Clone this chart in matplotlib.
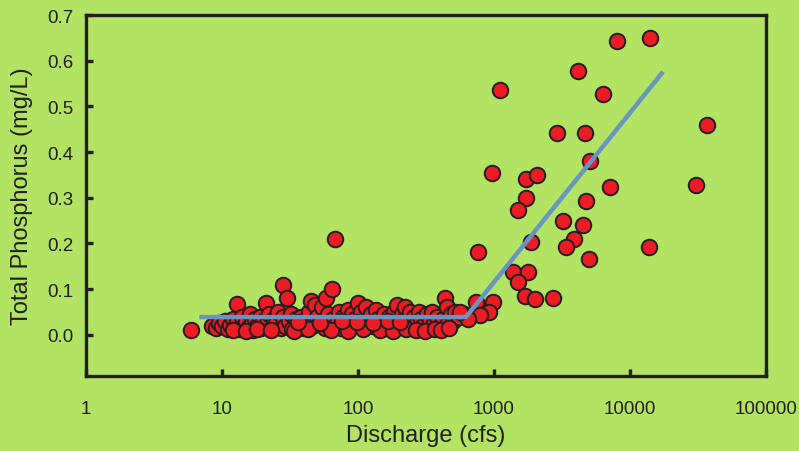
import matplotlib.pyplot as plt

# low-flow cluster (discharge in cfs, total phosphorus in mg/L)
low_q = [5.9, 8.5, 9.0, 9.5, 10, 10.5, 11, 11.5, 12, 12.5, 13, 13, 13.5, 14, 14.5,
         15, 15.5, 16, 16.5, 17, 17.5, 18, 19, 19.5, 20, 21, 21, 22, 23, 24, 25,
         26, 27, 28, 28, 29, 30, 31, 32, 33, 35, 37, 38, 40, 42, 44, 45, 46, 48,
         50, 52, 54, 55, 57, 58, 60, 62, 64, 66, 68, 70, 72, 75, 78, 80, 84, 88,
         90, 95, 100, 100, 105, 110, 115, 120, 125, 130, 135, 140, 150, 155, 160,
         170, 175, 185, 195, 200, 210, 220, 230, 240, 250, 260, 270, 280, 290,
         300, 320, 330, 340, 350, 360, 380, 400, 420, 440, 450, 460, 480, 500,
         520, 550, 600, 12, 15, 18, 23, 34, 43, 63, 85, 108, 145, 180, 225, 265,
         310, 370, 410, 470, 36, 53, 76, 98, 128, 165, 205]
low_tp = [0.01, 0.02, 0.015, 0.025, 0.02, 0.03, 0.012, 0.022, 0.035, 0.018, 0.068,
          0.028, 0.012, 0.04, 0.02, 0.03, 0.015, 0.045, 0.025, 0.01, 0.035, 0.02,
          0.04, 0.015, 0.03, 0.07, 0.022, 0.045, 0.012, 0.035, 0.025, 0.05, 0.015,
          0.11, 0.04, 0.02, 0.08, 0.03, 0.045, 0.012, 0.035, 0.022, 0.04, 0.015,
          0.03, 0.05, 0.075, 0.02, 0.065, 0.04, 0.025, 0.06, 0.03, 0.015, 0.08,
          0.045, 0.02, 0.1, 0.035, 0.21, 0.025, 0.05, 0.015, 0.04, 0.03, 0.055,
          0.02, 0.045, 0.035, 0.07, 0.025, 0.05, 0.015, 0.06, 0.03, 0.045, 0.02,
          0.055, 0.035, 0.025, 0.045, 0.015, 0.04, 0.03, 0.05, 0.065, 0.02, 0.045,
          0.06, 0.03, 0.05, 0.015, 0.04, 0.025, 0.05, 0.035, 0.02, 0.045, 0.012,
          0.03, 0.05, 0.025, 0.04, 0.02, 0.035, 0.08, 0.06, 0.025, 0.045, 0.03,
          0.05, 0.04, 0.045, 0.01, 0.008, 0.012, 0.01, 0.008, 0.012, 0.01, 0.008,
          0.012, 0.01, 0.008, 0.012, 0.01, 0.008, 0.012, 0.01, 0.015, 0.028,
          0.025, 0.03, 0.028, 0.025, 0.03, 0.028]

# high-flow points
high_q = [7980, 14030, 4170, 1107, 6330, 36600, 2890, 4670, 5080, 962, 1719, 2080,
          1710, 1494, 7130, 30550, 4770, 3233, 4510, 3874, 3366, 1871, 4970, 13740,
          763, 1372, 1787, 1494, 1700, 2000, 2702, 977, 737, 919, 789, 647, 562]
high_tp = [0.644, 0.650, 0.577, 0.536, 0.527, 0.460, 0.442, 0.442, 0.380, 0.355,
           0.342, 0.350, 0.300, 0.273, 0.323, 0.329, 0.293, 0.250, 0.240, 0.210,
           0.193, 0.204, 0.165, 0.192, 0.181, 0.137, 0.137, 0.115, 0.084, 0.079,
           0.080, 0.073, 0.072, 0.050, 0.044, 0.035, 0.051]

# breakpoint fit
fit_q = [6.8, 622, 17500]
fit_tp = [0.039, 0.039, 0.576]

BG = '#B2E362'
DARK = '#231F20'
FONT = 'Liberation Sans'

fig = plt.figure(figsize=(7.99, 4.52), dpi=100, facecolor=BG)
ax = fig.add_axes([0.1076, 0.1659, 0.8511, 0.7987])
ax.set_facecolor(BG)

ax.scatter(low_q + high_q, low_tp + high_tp, s=125, c='#ED1C24',
           edgecolors=DARK, linewidths=1.4, zorder=2)
ax.plot(fit_q, fit_tp, color='#6A95C3', lw=3.2, solid_capstyle='butt', zorder=3)

ax.set_xscale('log')
ax.set_xlim(1, 100000)
ax.set_ylim(-0.09, 0.7)
ax.set_xticks([1, 10, 100, 1000, 10000, 100000])
ax.set_xticklabels(['1', '10', '100', '1000', '10000', '100000'])
ax.minorticks_off()
ax.set_yticks([0.0, 0.1, 0.2, 0.3, 0.4, 0.5, 0.6, 0.7])
ax.set_yticklabels(['%.1f' % v for v in [0.0, 0.1, 0.2, 0.3, 0.4, 0.5, 0.6, 0.7]])

for side in ax.spines.values():
    side.set_linewidth(2.4)
    side.set_color(DARK)
ax.tick_params(axis='both', direction='in', length=5, width=2.4, color=DARK,
               labelsize=13.5, labelcolor=DARK)
ax.tick_params(axis='x', pad=17)
ax.tick_params(axis='y', pad=9)
for lab in ax.get_xticklabels() + ax.get_yticklabels():
    lab.set_fontfamily(FONT)

ax.set_xlabel('Discharge (cfs)', fontsize=17, family=FONT, color=DARK, labelpad=5)
ax.set_ylabel('Total Phosphorus (mg/L)', fontsize=17, family=FONT, color=DARK, labelpad=10)

fig.savefig('out.png', dpi=100, facecolor=BG)
